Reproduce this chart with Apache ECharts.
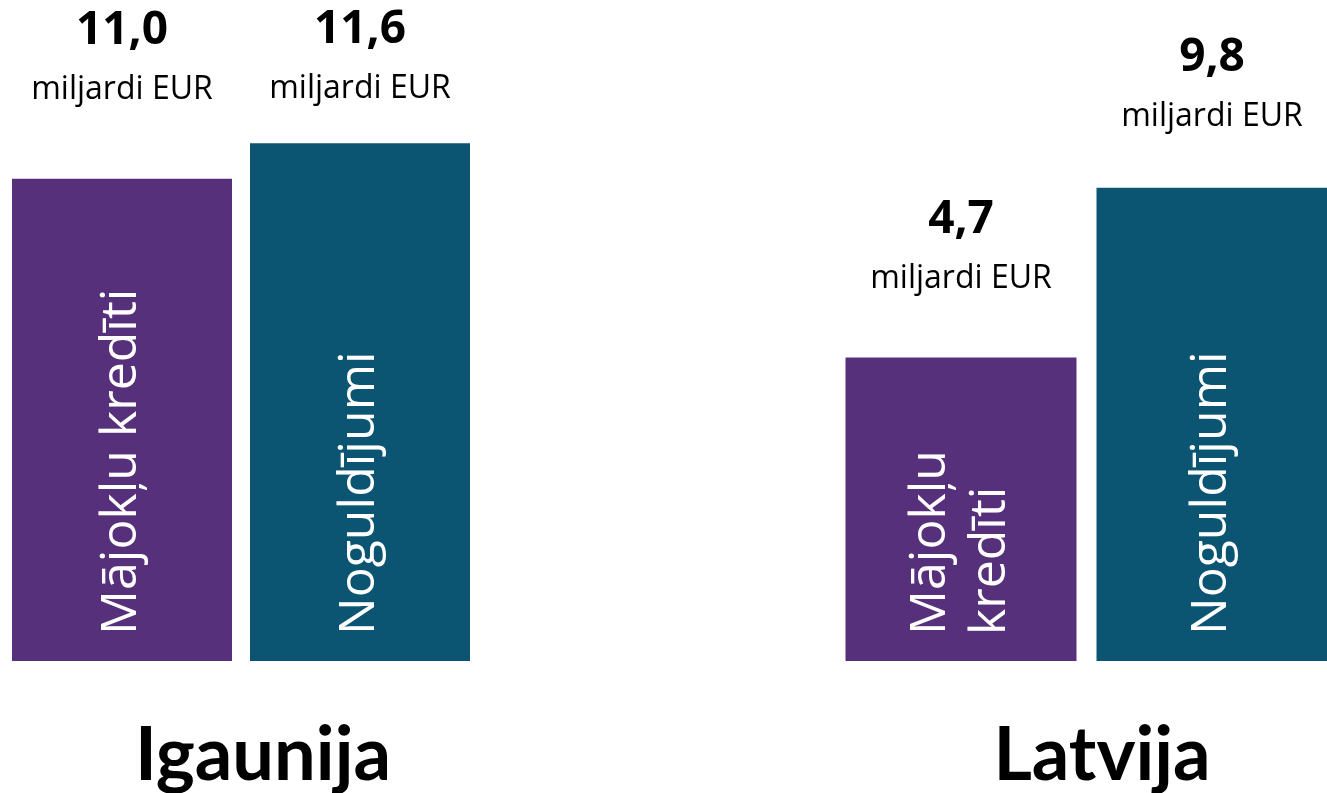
<!DOCTYPE html>
<html>
<head>
<meta charset="utf-8">
<script src="https://cdn.jsdelivr.net/npm/echarts@6/dist/echarts.min.js"></script>
<style>
  html, body { margin: 0; padding: 0; background: #fff; }
  #chart { width: 1327px; height: 793px; }
</style>
</head>
<body>
<div id="chart"></div>
<script>
var countries = ['Igaunija', 'Latvija'];
var categories = ['Mājokļu kredīti', 'Noguldījumi'];
// values printed above bars (billions EUR)
var estoniaValues = [11.0, 11.6];
var latviaValues = [4.7, 9.8];
// bar heights as drawn in the picture (not proportional to the printed values)
var estoniaBars = [10.8, 11.6];
var latviaBars = [6.8, 10.6];
var unitText = 'miljardi EUR';

var colors = ['#57307c', '#0b5572'];
var font = '"Open Sans", "Noto Sans", sans-serif';

var chart = echarts.init(document.getElementById('chart'));

function fmt(v) {
    return v.toFixed(1).replace('.', ',');
}

function makeData(bars, values, dist) {
    return bars.map(function (b, i) {
        return {
            value: b,
            itemStyle: { color: colors[i] },
            label: {
                show: true,
                position: 'top',
                distance: dist[i],
                formatter: '{v|' + fmt(values[i]) + '}\n{u|' + unitText + '}',
                rich: {
                    v: { fontFamily: font, fontSize: 46, fontWeight: 'bold', color: '#000', lineHeight: 68 },
                    u: { fontFamily: font, fontSize: 32, color: '#000', lineHeight: 50 }
                }
            }
        };
    });
}

function innerLabelSeries(gridIdx, bars, inner, width) {
    return {
        type: 'bar',
        xAxisIndex: gridIdx,
        yAxisIndex: gridIdx,
        barWidth: width,
        barGap: '-100%',
        silent: true,
        clip: false,
        itemStyle: { color: 'transparent' },
        data: bars.map(function (b, i) { return { value: b, name: inner[i] }; }),
        label: {
            show: true,
            position: 'insideBottom',
            rotate: 90,
            align: 'left',
            verticalAlign: 'middle',
            distance: 26,
            formatter: '{b}',
            fontFamily: font,
            fontSize: 50,
            lineHeight: 60,
            color: '#fff'
        },
        z: 3
    };
}

var titleStyle = { fontFamily: 'Lato, "Open Sans", sans-serif', fontSize: 74, fontWeight: 'bold', color: '#000' };

var option = {
    animation: false,
    title: [
        { text: countries[0], left: 258, top: 714, textAlign: 'center', textStyle: titleStyle },
        { text: countries[1], left: 1097, top: 714, textAlign: 'center', textStyle: titleStyle }
    ],
    grid: [
        { left: 122, width: 238, top: 36, bottom: 132 },
        { left: 961, width: 251, top: 36, bottom: 132 }
    ],
    xAxis: [
        { type: 'category', gridIndex: 0, data: categories, boundaryGap: false, show: false },
        { type: 'category', gridIndex: 1, data: categories, boundaryGap: false, show: false }
    ],
    yAxis: [
        { type: 'value', gridIndex: 0, min: 0, max: 14, show: false },
        { type: 'value', gridIndex: 1, min: 0, max: 14, show: false }
    ],
    series: [
        {
            type: 'bar', xAxisIndex: 0, yAxisIndex: 0, barWidth: 220, clip: false,
            data: makeData(estoniaBars, estoniaValues, [64, 29])
        },
        innerLabelSeries(0, estoniaBars, ['Mājokļu kredīti', 'Noguldījumi'], 220),
        {
            type: 'bar', xAxisIndex: 1, yAxisIndex: 1, barWidth: 231, clip: false,
            data: makeData(latviaBars, latviaValues, [54, 46])
        },
        innerLabelSeries(1, latviaBars, ['Mājokļu\nkredīti', 'Noguldījumi'], 231)
    ]
};

chart.setOption(option);
</script>
</body>
</html>
